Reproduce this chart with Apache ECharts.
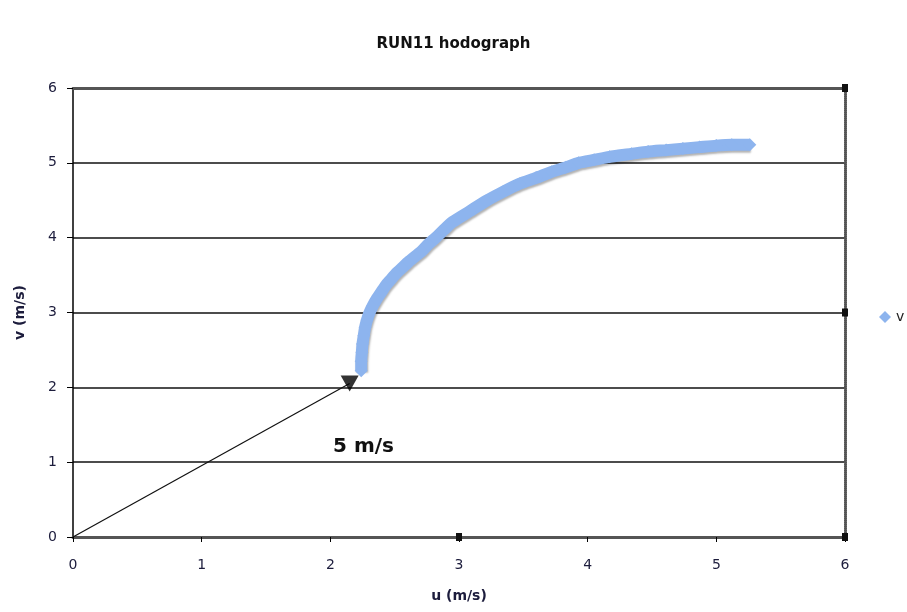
<!DOCTYPE html>
<html>
<head>
<meta charset="utf-8">
<script src="https://cdn.jsdelivr.net/npm/echarts@6/dist/echarts.min.js"></script>
<style>html,body{margin:0;padding:0;background:#fff}#c{width:907px;height:612px}</style>
</head>
<body>
<div id="c"></div>
<script>
// ---- data ----
const uValues = [2.24,2.24,2.245,2.25,2.26,2.27,2.285,2.305,2.33,2.36,2.395,2.43,2.47,2.51,2.56,2.61,2.66,2.71,2.76,2.82,2.88,2.95,3.08,3.21,3.34,3.47,3.60,3.72,3.83,3.93,4.05,4.17,4.34,4.47,4.61,4.74,4.87,5.00,5.12,5.26];
const vValues = [2.22,2.35,2.47,2.58,2.69,2.80,2.90,3.00,3.09,3.18,3.27,3.36,3.44,3.52,3.60,3.68,3.75,3.82,3.91,4.00,4.10,4.21,4.35,4.49,4.61,4.72,4.80,4.88,4.94,5.00,5.04,5.08,5.12,5.15,5.17,5.19,5.21,5.23,5.24,5.24];
const arrowU = [0, 2.15];
const arrowV = [0, 2.05];
const axisTicks = [0,1,2,3,4,5,6];
const titleText = 'RUN11 hodograph';
const seriesName = 'v';
const annotation = '5 m/s';

const curve = uValues.map((u,i)=>[u, vValues[i]]);
const arrowLine = arrowU.map((u,i)=>[u, arrowV[i]]);
const arrowHead = [[arrowU[1], arrowV[1]]];

const FONT = 'DejaVu Sans';
const LBL = '#1c1c3c';
const hatch = {color:'#555', width:3, type:[1,1]};
const blue = '#8db4ee';

const chart = echarts.init(document.getElementById('c'));
chart.setOption({
  animation:false,
  backgroundColor:'#fff',
  title:{text:titleText, left:'center', top:32, textStyle:{fontFamily:FONT, fontSize:15, fontWeight:'bold', color:'#111'}},
  legend:{data:[{name:seriesName, icon:'diamond'}], left:874, top:305, itemWidth:12, itemHeight:12, itemGap:4,
          textStyle:{fontFamily:FONT, fontSize:14, color:'#222'}},
  grid:{left:73, right:62, top:88, bottom:75},
  xAxis:[{
    type:'value', min:0, max:6, interval:1, position:'bottom',
    name:'u (m/s)', nameLocation:'middle', nameGap:52,
    nameTextStyle:{fontFamily:FONT, fontSize:14, fontWeight:'bold', color:LBL},
    axisLine:{show:true, onZero:false, lineStyle:hatch},
    axisTick:{show:true, length:5, lineStyle:{color:'#000', width:1}},
    axisLabel:{fontFamily:FONT, fontSize:14, color:LBL, margin:21, formatter:v=>axisTicks.includes(v)?String(v):''},
    splitLine:{show:false}
  },{
    type:'value', min:0, max:6, interval:1, position:'top',
    axisLine:{show:true, onZero:false, lineStyle:hatch},
    axisTick:{show:false}, axisLabel:{show:false}, splitLine:{show:false}
  }],
  yAxis:[{
    type:'value', min:0, max:6, interval:1, position:'left',
    name:'v (m/s)', nameLocation:'middle', nameGap:46, nameRotate:90,
    nameTextStyle:{fontFamily:FONT, fontSize:14, fontWeight:'bold', color:LBL},
    axisLine:{show:true, onZero:false, lineStyle:{color:'#000', width:1.5}},
    axisTick:{show:true, length:6, lineStyle:{color:'#000', width:1}},
    axisLabel:{fontFamily:FONT, fontSize:14, color:LBL, margin:16},
    splitLine:{show:true, showMinLine:false, showMaxLine:false, lineStyle:{color:'#111', width:1.5}}
  },{
    type:'value', min:0, max:6, interval:1, position:'right',
    axisLine:{show:true, onZero:false, lineStyle:hatch},
    axisTick:{show:false}, axisLabel:{show:false}, splitLine:{show:false}
  }],
  series:[{
    name:seriesName, type:'line', data:curve, smooth:0.2,
    symbol:'diamond', symbolSize:13, showAllSymbol:true,
    lineStyle:{color:blue, width:12, shadowColor:'rgba(0,0,0,0.3)', shadowOffsetX:1, shadowOffsetY:2, shadowBlur:2},
    itemStyle:{color:blue, borderWidth:0},
    z:3
  },{
    name:'arrow', type:'line', data:arrowLine, symbol:'none',
    lineStyle:{color:'#111', width:1.2}, z:4
  },{
    name:'arrowHead', type:'scatter', data:arrowHead, symbol:'triangle', symbolRotate:180, symbolSize:[18,16],
    itemStyle:{color:'#000'}, z:5
  }],
  graphic:[{
    type:'text', left:333, top:437,
    style:{text:annotation, font:'bold 20px "DejaVu Sans"', fill:'#111'}
  }]
});

// Excel-style selection handles on the plot border
const handles = [[3,6],[6,6],[6,3],[3,0],[6,0]];
const g = handles.map(p=>{
  const px = chart.convertToPixel({xAxisIndex:0, yAxisIndex:0}, p);
  return {type:'rect', shape:{x:px[0]-3, y:px[1]-4, width:6, height:8}, style:{fill:'#111'}, z:10};
});
chart.setOption({graphic:g});
</script>
</body>
</html>
